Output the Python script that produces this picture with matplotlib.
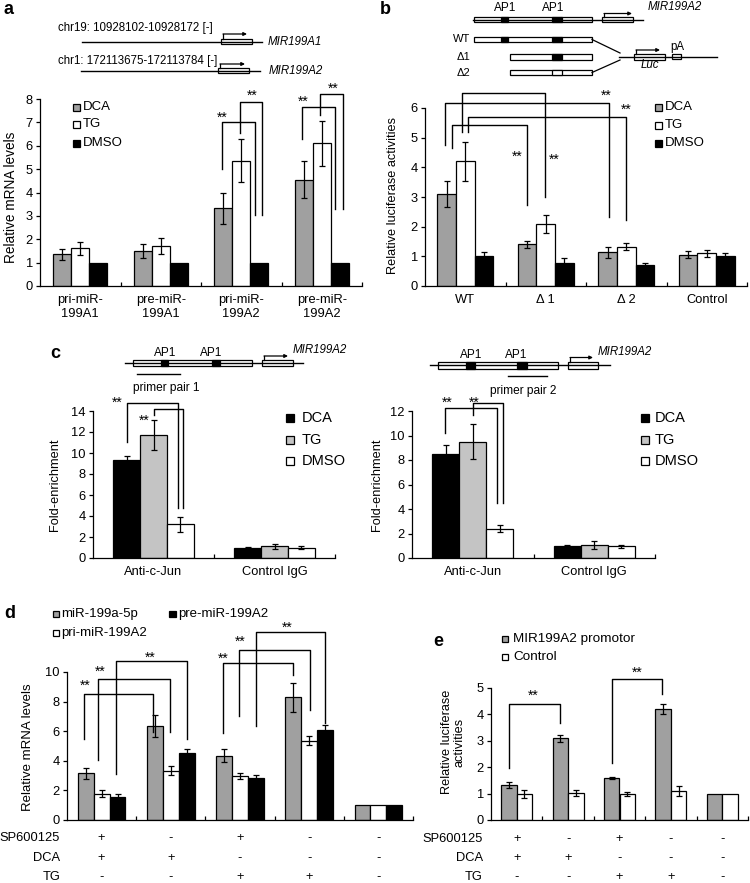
import matplotlib
matplotlib.use('Agg')
import matplotlib.pyplot as plt
import numpy as np
from matplotlib.patches import Rectangle

plt.rcParams['font.family'] = ['Liberation Sans', 'DejaVu Sans']

# ---------------- data ----------------
a_categories = ['pri-miR-\n199A1', 'pre-miR-\n199A1', 'pri-miR-\n199A2', 'pre-miR-\n199A2']
a_series = ['DCA', 'TG', 'DMSO']
a_dca = [1.35, 1.48, 3.32, 4.55]
a_dca_err = [0.22, 0.30, 0.65, 0.80]
a_tg = [1.62, 1.72, 5.35, 6.10]
a_tg_err = [0.28, 0.33, 0.92, 0.98]
a_dmso = [1.0, 1.0, 1.0, 1.0]
a_dmso_err = [0, 0, 0, 0]

b_categories = ['WT', '\u0394 1', '\u0394 2', 'Control']
b_series = ['DCA', 'TG', 'DMSO']
b_dca = [3.10, 1.40, 1.13, 1.06]
b_dca_err = [0.45, 0.12, 0.18, 0.13]
b_tg = [4.20, 2.10, 1.33, 1.10]
b_tg_err = [0.65, 0.30, 0.12, 0.13]
b_dmso = [1.00, 0.78, 0.72, 1.00]
b_dmso_err = [0.13, 0.15, 0.07, 0.10]

c_categories = ['Anti-c-Jun', 'Control IgG']
c_series = ['DCA', 'TG', 'DMSO']
c1_dca = [9.3, 1.0]
c1_dca_err = [0.4, 0.08]
c1_tg = [11.7, 1.1]
c1_tg_err = [1.45, 0.2]
c1_dmso = [3.2, 1.0]
c1_dmso_err = [0.7, 0.12]
c2_dca = [8.5, 1.0]
c2_dca_err = [0.7, 0.07]
c2_tg = [9.5, 1.05]
c2_tg_err = [1.45, 0.3]
c2_dmso = [2.4, 0.95]
c2_dmso_err = [0.3, 0.15]

d_series = ['miR-199a-5p', 'pri-miR-199A2', 'pre-miR-199A2']
d_mir = [3.15, 6.33, 4.35, 8.30, 1.0]
d_mir_err = [0.38, 0.75, 0.42, 0.97, 0]
d_pri = [1.78, 3.33, 2.97, 5.35, 1.0]
d_pri_err = [0.22, 0.30, 0.22, 0.30, 0]
d_pre = [1.58, 4.55, 2.85, 6.10, 1.0]
d_pre_err = [0.18, 0.22, 0.20, 0.30, 0]

e_series = ['MIR199A2 promotor', 'Control']
e_prom = [1.33, 3.10, 1.60, 4.20, 1.0]
e_prom_err = [0.12, 0.13, 0.03, 0.20, 0]
e_ctrl = [1.00, 1.02, 0.98, 1.10, 1.0]
e_ctrl_err = [0.15, 0.12, 0.08, 0.18, 0]

cond_names = ['SP600125', 'DCA', 'TG']
cond_sp = ['+', '-', '+', '-', '-']
cond_dca = ['+', '+', '-', '-', '-']
cond_tg = ['-', '-', '+', '+', '-']

GREY = '#a0a0a0'
LGREY = '#c4c4c4'

# ---------------- figure ----------------
W, H = 750, 883
fig = plt.figure(figsize=(7.5, 8.83), dpi=100)

ov = fig.add_axes([0, 0, 1, 1])
ov.set_xlim(0, W)
ov.set_ylim(H, 0)
ov.axis('off')

TICK = 9.3
DIAG = 8.3


def px_axes(l, r, top, bot):
    return fig.add_axes([l / W, 1 - bot / H, (r - l) / W, (bot - top) / H])


def style(ax, ncat, ymax, ystep, labels):
    ax.set_xlim(-0.5, ncat - 0.5)
    ax.set_ylim(0, ymax)
    ax.set_yticks(np.arange(0, ymax + 0.01, ystep))
    ax.set_xticks(np.arange(ncat))
    ax.set_xticklabels(labels if labels is not None else [''] * ncat)
    ax.set_xticks(np.arange(ncat) + 0.5, minor=True)
    ax.tick_params(axis='x', which='major', length=0, pad=6, labelsize=TICK)
    ax.tick_params(axis='x', which='minor', direction='in', length=3, width=0.9)
    ax.tick_params(axis='y', direction='out', length=3.2, width=0.9, pad=2, labelsize=TICK)
    for s in ['top', 'right']:
        ax.spines[s].set_visible(False)
    for s in ['left', 'bottom']:
        ax.spines[s].set_linewidth(0.9)
    ax.patch.set_alpha(0)


def bars(ax, series_vals, series_errs, colors, width, offsets):
    for vals, errs, col, off in zip(series_vals, series_errs, colors, offsets):
        x = np.arange(len(vals)) + off
        ax.bar(x, vals, width=width, color=col, edgecolor='black', linewidth=0.9, zorder=2)
        errs = np.asarray(errs, dtype=float)
        m = errs > 0
        if m.any():
            ax.errorbar(x[m], np.asarray(vals)[m], yerr=errs[m], fmt='none', ecolor='black',
                        elinewidth=0.9, capsize=2.3, capthick=0.9, zorder=3)


def bracket(ax, xl, xr, ytop, ylb, yrb):
    ax.plot([xl, xl, xr, xr], [ylb, ytop, ytop, yrb], color='black', lw=1.0,
            clip_on=False, zorder=4)


def stars(ax, x, y):
    ax.annotate('**', (x, y), xytext=(0, -2.0), textcoords='offset points',
                ha='center', va='center', fontsize=10, annotation_clip=False)


def legend_px(items, x, ys, tx, size=9.5, sq=7):
    for (lab, col), y in zip(items, ys):
        ov.add_patch(Rectangle((x - sq / 2, y - sq / 2), sq, sq, fc=col, ec='black', lw=0.9))
        ov.text(tx, y, lab, ha='left', va='center', fontsize=size)


# ---- drawing helpers for gene diagrams (pixel coords) ----
def hl(x0, x1, y, lw=1.0):
    ov.plot([x0, x1], [y, y], color='black', lw=lw)


def box(x0, x1, yc, h=5.5, fc='white'):
    ov.add_patch(Rectangle((x0, yc - h / 2), x1 - x0, h, fc=fc, ec='black', lw=0.9))


def tss(x0, ybase, ytop, x1):
    ov.plot([x0, x0], [ybase, ytop], color='black', lw=0.9)
    ov.annotate('', xy=(x1, ytop), xytext=(x0, ytop),
                arrowprops=dict(arrowstyle='-|>', lw=0.9, color='black',
                                mutation_scale=5, shrinkA=0, shrinkB=0))


# ================= panel a =================
axa = px_axes(40, 362, 99, 286)
style(axa, 4, 8, 1, a_categories)
bars(axa, [a_dca, a_tg, a_dmso], [a_dca_err, a_tg_err, a_dmso_err],
     [GREY, 'white', 'black'], 0.225, [-0.225, 0, 0.225])
bracket(axa, 1.76, 2.17, 7.0, 5.0, 3.05)
stars(axa, 1.76, 7.3)
bracket(axa, 1.98, 2.26, 7.87, 6.55, 3.05)
stars(axa, 2.13, 8.25)
bracket(axa, 2.755, 3.16, 7.65, 6.28, 3.28)
stars(axa, 2.77, 7.99)
bracket(axa, 2.98, 3.26, 8.2, 7.3, 3.28)
stars(axa, 3.14, 8.55)
legend_px(list(zip(a_series, [GREY, 'white', 'black'])), 76.5, [107, 124, 143], 83)
ov.text(11, 197, 'Relative mRNA levels', rotation=90, ha='center', va='center', fontsize=9.8)
ov.text(3, 10, 'a', fontsize=13, fontweight='bold', ha='left', va='center')

# diagram a
ov.text(58, 28, 'chr19: 10928102-10928172 [-]', fontsize=DIAG, ha='left', va='center')
hl(82, 262, 42)
box(221, 252, 41.5, 5)
tss(223, 39, 34, 247)
ov.text(268, 42, 'MIR199A1', fontsize=DIAG, style='italic', ha='left', va='center')
ov.text(58, 61, 'chr1: 172113675-172113784 [-]', fontsize=DIAG, ha='left', va='center')
hl(81, 260, 71)
box(218, 249, 70.5, 5)
tss(220, 68, 64, 245)
ov.text(269, 71, 'MIR199A2', fontsize=DIAG, style='italic', ha='left', va='center')

# ================= panel b =================
axb = px_axes(425, 747, 108, 286)
style(axb, 4, 6, 1, b_categories)
bars(axb, [b_dca, b_tg, b_dmso], [b_dca_err, b_tg_err, b_dmso_err],
     [GREY, 'white', 'black'], 0.23, [-0.23, 0, 0.23])
bracket(axb, -0.037, 0.99, 6.49, 5.2, 3.0)
bracket(axb, -0.247, 1.79, 6.18, 4.76, 2.34)
bracket(axb, 0.037, 2.0, 5.71, 5.2, 2.23)
bracket(axb, -0.16, 0.765, 5.44, 4.66, 2.74)
stars(axb, 0.64, 4.46)
stars(axb, 1.11, 4.36)
stars(axb, 1.75, 6.52)
stars(axb, 2.0, 6.05)
legend_px(list(zip(b_series, [GREY, 'white', 'black'])), 658, [107, 125, 143], 665)
ov.text(393, 196, 'Relative luciferase activities', rotation=90, ha='center', va='center', fontsize=9.2)
ov.text(380, 9, 'b', fontsize=13, fontweight='bold', ha='left', va='center')

# diagram b
hl(473, 643, 19.5)
box(474, 592, 19.5)
box(501, 508, 19.5, fc='black')
box(552, 562, 19.5, fc='black')
ov.text(505, 8, 'AP1', fontsize=8.5, ha='center', va='center')
ov.text(553, 8, 'AP1', fontsize=8.5, ha='center', va='center')
box(602, 633, 19.5)
tss(604, 16.8, 13.5, 632)
ov.text(648, 7, 'MIR199A2', fontsize=DIAG, style='italic', ha='left', va='center')
ov.text(470, 39.5, 'WT', fontsize=8, ha='right', va='center')
box(474, 592, 39.5)
box(501, 508, 39.5, fc='black')
box(552, 562, 39.5, fc='black')
ov.text(470, 57, '\u03941', fontsize=8, ha='right', va='center')
box(510, 592, 57)
box(552, 562, 57, fc='black')
ov.text(470, 72.5, '\u03942', fontsize=8, ha='right', va='center')
box(510, 592, 72.5)
box(552, 562, 72.5)
ov.plot([592, 620], [39.5, 53], color='black', lw=0.9)
ov.plot([592, 620], [72.5, 60], color='black', lw=0.9)
hl(619, 717, 56.5)
box(634, 665, 56.5, 6)
tss(636, 53.5, 50, 660)
ov.text(650, 65.5, 'Luc', fontsize=DIAG, style='italic', ha='center', va='center')
box(672, 681, 56.5, 5)
ov.text(677, 47, 'pA', fontsize=DIAG, ha='center', va='center')

# ================= panel c =================
cols_c = ['black', LGREY, 'white']
axc1 = px_axes(93, 335, 411, 558)
style(axc1, 2, 14, 2, c_categories)
bars(axc1, [c1_dca, c1_tg, c1_dmso], [c1_dca_err, c1_tg_err, c1_dmso_err],
     cols_c, 0.223, [-0.223, 0, 0.223])
bracket(axc1, -0.219, 0.2, 14.76, 11.05, 4.76)
stars(axc1, -0.3, 15.0)
bracket(axc1, 0.0, 0.245, 14.2, 13.6, 4.76)
stars(axc1, -0.08, 13.3)
legend_px(list(zip(c_series, cols_c)), 290, [418, 440, 461], 302, size=10.5, sq=8)
ov.text(55, 485, 'Fold-enrichment', rotation=90, ha='center', va='center', fontsize=9.2)
ov.text(50, 353, 'c', fontsize=13, fontweight='bold', ha='left', va='center')

hl(125, 303, 363)
box(133, 252, 363)
box(161, 168, 363, fc='black')
box(212, 220, 363, fc='black')
ov.text(165, 353, 'AP1', fontsize=8.5, ha='center', va='center')
ov.text(211, 353, 'AP1', fontsize=8.5, ha='center', va='center')
box(262, 293, 363)
tss(264, 360.3, 356, 288)
ov.text(293, 350, 'MIR199A2', fontsize=DIAG, style='italic', ha='left', va='center')
hl(137, 180, 374)
ov.text(133, 388, 'primer pair 1', fontsize=8.6, ha='left', va='center')

axc2 = px_axes(412, 655, 411, 558)
style(axc2, 2, 12, 2, c_categories)
bars(axc2, [c2_dca, c2_tg, c2_dmso], [c2_dca_err, c2_tg_err, c2_dmso_err],
     cols_c, 0.223, [-0.223, 0, 0.223])
bracket(axc2, -0.228, 0.2, 12.24, 10.2, 4.5)
stars(axc2, -0.21, 12.9)
bracket(axc2, 0.0, 0.25, 12.65, 11.7, 4.5)
stars(axc2, 0.01, 12.9)
legend_px(list(zip(c_series, cols_c)), 645, [418, 440, 461], 655, size=10.5, sq=8)
ov.text(377, 485, 'Fold-enrichment', rotation=90, ha='center', va='center', fontsize=9.2)

hl(430, 610, 365)
box(438, 558, 365, 7)
box(466, 475, 365, 7, fc='black')
box(517, 527, 365, 7, fc='black')
ov.text(471, 355, 'AP1', fontsize=8.5, ha='center', va='center')
ov.text(516, 355, 'AP1', fontsize=8.5, ha='center', va='center')
box(568, 598, 365, 7)
tss(570, 361.5, 357.5, 593)
ov.text(598, 352, 'MIR199A2', fontsize=DIAG, style='italic', ha='left', va='center')
hl(508, 547, 376)
ov.text(490, 391, 'primer pair 2', fontsize=8.6, ha='left', va='center')

# ================= panel d =================
axd = px_axes(67, 413, 672, 820)
style(axd, 5, 10, 2, None)
bars(axd, [d_mir, d_pri, d_pre], [d_mir_err, d_pri_err, d_pre_err],
     [GREY, 'white', 'black'], 0.23, [-0.23, 0, 0.23])
bracket(axd, -0.254, 0.743, 8.5, 5.45, 5.95)
stars(axd, -0.24, 9.25)
bracket(axd, -0.05, 0.99, 9.5, 4.05, 5.95)
stars(axd, -0.02, 10.2)
bracket(axd, 0.21, 1.234, 10.75, 3.1, 5.5)
stars(axd, 0.7, 11.15)
bracket(axd, 1.754, 2.766, 10.6, 5.9, 9.8)
stars(axd, 1.754, 11.1)
bracket(axd, 1.985, 3.01, 11.5, 7.0, 7.4)
stars(axd, 2.0, 12.2)
bracket(axd, 2.23, 3.23, 12.7, 6.35, 6.55)
stars(axd, 2.68, 13.2)
legend_px([(d_series[0], GREY)], 56, [614], 61, size=9.5, sq=6.5)
legend_px([(d_series[2], 'black')], 172.5, [614], 178, size=9.5, sq=6.5)
legend_px([(d_series[1], 'white')], 56, [633], 61, size=9.5, sq=6.5)
ov.text(28, 747, 'Relative mRNA levels', rotation=90, ha='center', va='center', fontsize=9.5)
ov.text(4, 613, 'd', fontsize=13, fontweight='bold', ha='left', va='center')
tr = axd.get_xaxis_transform()
for row, (name, vals) in enumerate(zip(cond_names, [cond_sp, cond_dca, cond_tg])):
    yy = [-0.122, -0.257, -0.385][row]
    axd.text(-0.02, yy, name, transform=axd.transAxes, ha='right', va='center', fontsize=9.3)
    for i, v in enumerate(vals):
        axd.text(i, yy, v, transform=tr, ha='center', va='center', fontsize=9.3, clip_on=False)

# ================= panel e =================
axe = px_axes(491, 748, 688, 820)
style(axe, 5, 5, 1, None)
bars(axe, [e_prom, e_ctrl], [e_prom_err, e_ctrl_err], [GREY, 'white'], 0.3, [-0.15, 0.15])
bracket(axe, -0.15, 0.84, 4.39, 1.97, 3.67)
stars(axe, 0.32, 4.8)
bracket(axe, 1.855, 2.83, 5.34, 2.16, 4.77)
stars(axe, 2.34, 5.68)
legend_px([(e_series[0], GREY), (e_series[1], 'white')], 505, [639, 657], 513, size=9.7, sq=6.5)
ov.text(453, 742, 'Relative luciferase\nactivities', rotation=90, ha='center', va='center',
        fontsize=9.2, linespacing=1.05)
ov.text(433, 642, 'e', fontsize=13, fontweight='bold', ha='left', va='center')
tr = axe.get_xaxis_transform()
for row, (name, vals) in enumerate(zip(cond_names, [cond_sp, cond_dca, cond_tg])):
    yy = [-0.144, -0.288, -0.432][row]
    axe.text(-0.031, yy, name, transform=axe.transAxes, ha='right', va='center', fontsize=9.3)
    for i, v in enumerate(vals):
        axe.text(i, yy, v, transform=tr, ha='center', va='center', fontsize=9.3, clip_on=False)

fig.savefig('out.png', dpi=100)
